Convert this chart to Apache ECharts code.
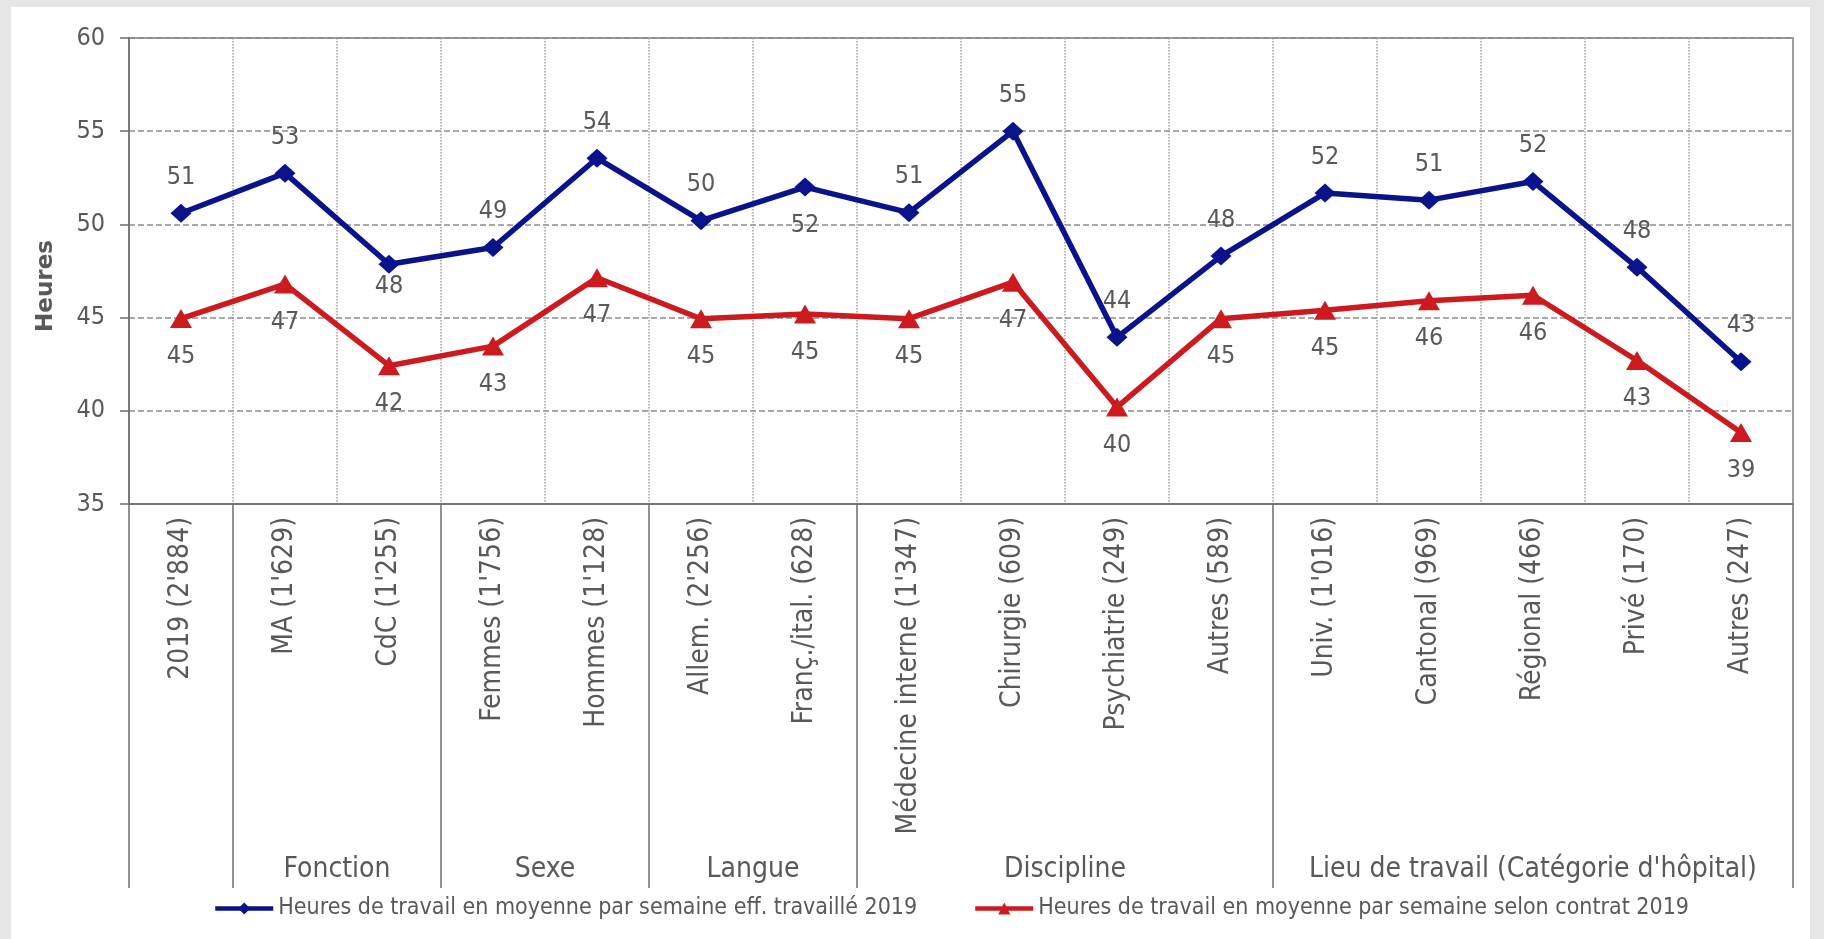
<!DOCTYPE html>
<html><head><meta charset="utf-8">
<script src="https://cdn.jsdelivr.net/npm/echarts@6/dist/echarts.min.js"></script>
<style>
html,body{margin:0;padding:0;background:#e6e6e6;width:1824px;height:939px;overflow:hidden}
#panel{position:absolute;left:11px;top:7px;width:1799px;height:932px;background:#fff}
#chart{position:absolute;left:0;top:0;width:1824px;height:939px}
</style></head><body>
<div id="panel"></div><div id="chart"></div>
<script>
// ---- data ----
const categories = ["2019 (2'884)", "MA (1'629)", "CdC (1'255)", "Femmes (1'756)", "Hommes (1'128)",
  "Allem. (2'256)", "Franç./ital. (628)", "Médecine interne (1'347)", "Chirurgie (609)",
  "Psychiatrie (249)", "Autres (589)", "Univ. (1'016)", "Cantonal (969)", "Régional (466)",
  "Privé (170)", "Autres (247)"];
const effectiveHours = [50.6, 52.75, 47.86, 48.76, 53.55, 50.2, 52.0, 50.63, 55.0, 43.94, 48.3, 51.68, 51.3, 52.3, 47.7, 42.63];
const contractHours = [44.95, 46.8, 42.42, 43.47, 47.14, 44.94, 45.19, 44.94, 46.9, 40.2, 44.94, 45.4, 45.9, 46.2, 42.7, 38.84];
const groupNames = ["", "Fonction", "Sexe", "Langue", "Discipline", "Lieu de travail (Catégorie d'hôpital)"];
const groupSizes = [1, 2, 2, 2, 4, 5];
const yMin = 35, yMax = 60, yStep = 5;
const seriesNames = ["Heures de travail en moyenne par semaine eff. travaillé 2019",
  "Heures de travail en moyenne par semaine selon contrat 2019"];

// ---- label placement (style config) ----
const effLabelBelow = {2: 22, 6: 38};   // index -> downward offset
const effLabelAbove = -36;
const conLabelBelow = 38;

// ---- derived ----
const boundaries = [0];
groupSizes.forEach(s => boundaries.push(boundaries[boundaries.length - 1] + s));
const groupCenters = [], groupLabelMap = {};
groupNames.forEach((n, i) => {
  if (!n) return;
  const c = (boundaries[i] + boundaries[i + 1]) / 2;
  groupCenters.push(c); groupLabelMap[c] = n;
});

const TXT = '#595959';
const COND = "'DejaVu Sans Condensed', 'DejaVu Sans', sans-serif";
const BLUE = '#0a128c', RED = '#cc1a1f';

const legendBase = {
  top: 897, itemWidth: 58, itemHeight: 15, padding: 0,
  textStyle: {fontFamily: COND, fontSize: 23, color: TXT},
  lineStyle: {width: 4.5}
};

const chart = echarts.init(document.getElementById('chart'), null, {renderer: 'canvas'});
const option = {
  animation: false,
  backgroundColor: 'transparent',
  grid: {left: 129, right: 31, top: 38, bottom: 435, show: true, borderColor: '#7f7f7f', borderWidth: 1.5, backgroundColor: 'transparent'},
  legend: [
    Object.assign({}, legendBase, {left: 213, data: [seriesNames[0]]}),
    Object.assign({}, legendBase, {left: 973, data: [seriesNames[1]]})
  ],
  xAxis: [{
    type: 'category', data: categories, position: 'bottom',
    axisLine: {show: true, lineStyle: {color: '#6e6e6e', width: 1.5}},
    axisTick: {show: false},
    axisLabel: {rotate: 90, interval: 0, margin: 13, fontFamily: COND, fontSize: 28, color: TXT},
    splitLine: {show: true, interval: 0, lineStyle: {type: 'dotted', color: '#a0a0a0', width: 1.5}}
  }, {
    type: 'value', min: 0, max: boundaries[boundaries.length - 1], position: 'bottom',
    axisLine: {show: false},
    splitLine: {show: false},
    axisTick: {show: true, customValues: boundaries, length: 384, lineStyle: {color: '#6e6e6e', width: 1.5}},
    axisLabel: {show: true, customValues: groupCenters, margin: 352, fontFamily: COND, fontSize: 28, color: TXT,
      formatter: v => groupLabelMap[v] || ''}
  }],
  yAxis: {
    type: 'value', min: yMin, max: yMax, interval: yStep,
    name: 'Heures', nameLocation: 'middle', nameGap: 71, nameRotate: 90,
    nameTextStyle: {fontFamily: "'DejaVu Sans', sans-serif", fontWeight: 'bold', fontSize: 23, color: TXT, padding: [0, 30, 0, 0]},
    axisLine: {show: true, lineStyle: {color: '#6e6e6e', width: 1.5}},
    axisTick: {show: true, length: 9, lineStyle: {color: '#6e6e6e', width: 1.5}},
    axisLabel: {margin: 24, fontFamily: COND, fontSize: 25, color: TXT},
    splitLine: {show: true, lineStyle: {type: [6, 3], color: '#8c8c8c', width: 1.5}}
  },
  series: [{
    name: seriesNames[0], type: 'line', xAxisIndex: 0,
    data: effectiveHours.map((v, i) => ({value: v, label: {offset: [0, effLabelBelow[i] !== undefined ? effLabelBelow[i] : effLabelAbove]}})),
    symbol: 'diamond', symbolSize: [21, 19],
    lineStyle: {color: BLUE, width: 5.5}, itemStyle: {color: BLUE},
    label: {show: true, position: 'inside', fontFamily: COND, fontSize: 25, color: TXT, formatter: p => Math.round(p.value)},
    z: 3
  }, {
    name: seriesNames[1], type: 'line', xAxisIndex: 0,
    data: contractHours.map(v => ({value: v, label: {offset: [0, conLabelBelow]}})),
    symbol: 'triangle', symbolSize: [22, 19],
    lineStyle: {color: RED, width: 5.5}, itemStyle: {color: RED},
    label: {show: true, position: 'inside', fontFamily: COND, fontSize: 25, color: TXT, formatter: p => Math.round(p.value)},
    z: 2
  }]
};
chart.setOption(option);
</script>
</body></html>
